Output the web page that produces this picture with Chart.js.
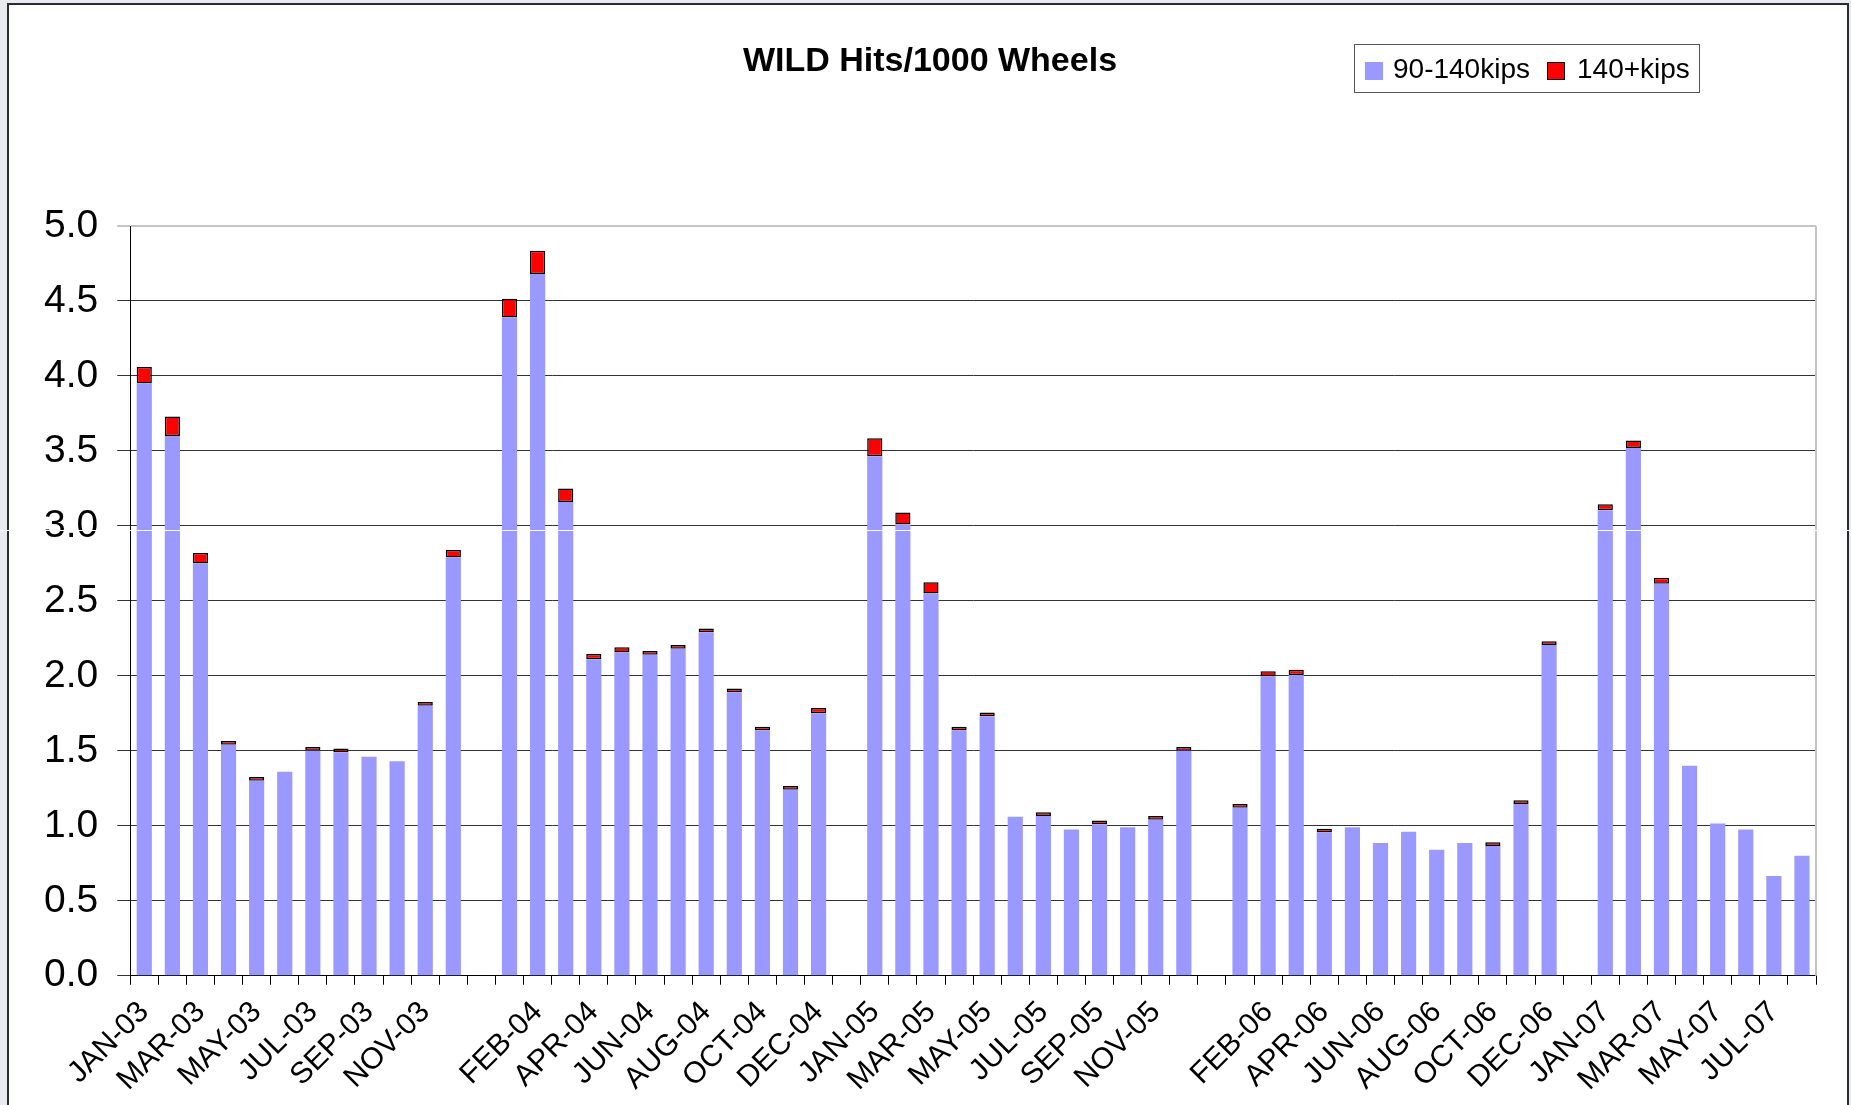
<!DOCTYPE html>
<html>
<head>
<meta charset="utf-8">
<script src="https://cdn.jsdelivr.net/npm/chart.js@4.4.1/dist/chart.umd.min.js"></script>
<style>
  html, body { margin: 0; padding: 0; }
  body {
    width: 1851px; height: 1105px; overflow: hidden; position: relative;
    background: #e7ebf0;
    font-family: "Liberation Sans", Arial, sans-serif;
  }
  #frame {
    position: absolute; left: 7px; top: 3px; width: 1838px; height: 1120px;
    border: 2px solid #2b2b2b; background: #fff;
  }
  #title {
    position: absolute; left: 0; top: 39px; width: 1860px; text-align: center;
    font-size: 34px; font-weight: bold; line-height: 40px; color: #000;
  }
  #legend {
    position: absolute; left: 1354px; top: 44px; width: 344px; height: 47px;
    border: 1px solid #555; background: #fff; font-size: 28px; color: #000;
  }
  #legend span { position: absolute; white-space: nowrap; }
  #legend .sw { width: 18px; height: 18px; box-sizing: border-box; top: 17px; }
  #legend .txt { top: 8px; line-height: 32px; }
  #glitch { position: absolute; left: 0; top: 530px; width: 1851px; height: 1px; background: #fff; }
</style>
</head>
<body>
<div id="frame"><canvas id="wildChart" width="1838" height="1108"></canvas></div>
<div id="title">WILD Hits/1000 Wheels</div>
<div id="legend"></div>
<div id="glitch"></div>
<script>
// one slot per month, '' marks the empty spacer slot between years
const months = [
  "JAN-03", "FEB-03", "MAR-03", "APR-03", "MAY-03", "JUN-03", "JUL-03", "AUG-03", "SEP-03", "OCT-03", "NOV-03", "DEC-03", "",
  "JAN-04", "FEB-04", "MAR-04", "APR-04", "MAY-04", "JUN-04", "JUL-04", "AUG-04", "SEP-04", "OCT-04", "NOV-04", "DEC-04", "",
  "JAN-05", "FEB-05", "MAR-05", "APR-05", "MAY-05", "JUN-05", "JUL-05", "AUG-05", "SEP-05", "OCT-05", "NOV-05", "DEC-05", "",
  "JAN-06", "FEB-06", "MAR-06", "APR-06", "MAY-06", "JUN-06", "JUL-06", "AUG-06", "SEP-06", "OCT-06", "NOV-06", "DEC-06", "",
  "JAN-07", "FEB-07", "MAR-07", "APR-07", "MAY-07", "JUN-07", "JUL-07", "AUG-07",
];

// 90-140 kips hits per 1000 wheels
const hitsMid = [
  3.95, 3.60, 2.75, 1.54, 1.30, 1.36, 1.50, 1.49, 1.46, 1.43, 1.80, 2.79, null,
  4.39, 4.68, 3.16, 2.11, 2.155, 2.14, 2.18, 2.29, 1.89, 1.635, 1.24, 1.75, null,
  3.465, 3.01, 2.55, 1.635, 1.73, 1.06, 1.065, 0.975, 1.01, 0.99, 1.04, 1.50, null,
  1.12, 1.995, 2.005, 0.955, 0.99, 0.885, 0.96, 0.84, 0.885, 0.865, 1.145, 2.205, null,
  3.105, 3.52, 2.615, 1.40, 1.015, 0.975, 0.665, 0.80,
];

// 140+ kips hits per 1000 wheels
const hitsHeavy = [
  0.11, 0.13, 0.07, 0.025, 0.025, null, 0.025, 0.025, null, null, 0.025, 0.05, null,
  0.125, 0.155, 0.09, 0.035, 0.035, 0.025, 0.025, 0.025, 0.025, 0.025, 0.025, 0.035, null,
  0.12, 0.08, 0.075, 0.025, 0.025, null, 0.025, null, 0.025, null, 0.025, 0.025, null,
  0.025, 0.035, 0.035, 0.025, null, null, null, null, null, 0.025, 0.025, 0.025, null,
  0.04, 0.05, 0.04, null, null, null, null, null,
];

const yTicks = { min: 0, max: 5, step: 0.5 };

const font = '"Liberation Sans", Arial, sans-serif';

// right edge of the plot area is a light grey line
const plotFrame = {
  id: "plotFrame",
  afterDraw(chart) {
    const { ctx, chartArea } = chart;
    ctx.save();
    ctx.strokeStyle = "#c4c4c4";
    ctx.lineWidth = 2;
    ctx.beginPath();
    ctx.moveTo(chartArea.right, chartArea.top);
    ctx.lineTo(chartArea.right, chartArea.bottom);
    ctx.stroke();
    ctx.restore();
  },
};

const ctx = document.getElementById("wildChart").getContext("2d");
const chart = new Chart(ctx, {
  type: "bar",
  data: {
    labels: months,
    datasets: [
      {
        label: "90-140kips",
        data: hitsMid,
        backgroundColor: "#9999ff",
        borderWidth: 0,
        barPercentage: 0.54,
        categoryPercentage: 1.0,
      },
      {
        label: "140+kips",
        data: hitsHeavy,
        backgroundColor: "#ff0000",
        borderColor: "#000000",
        borderWidth: 1.5,
        borderSkipped: false,
        barPercentage: 0.54,
        categoryPercentage: 1.0,
      },
    ],
  },
  options: {
    responsive: false,
    animation: false,
    layout: { padding: { left: 16, right: 31, top: 221, bottom: 5 } },
    plugins: {
      legend: { display: false },
      tooltip: { enabled: false },
      title: { display: false },
    },
    scales: {
      x: {
        stacked: true,
        grid: {
          offset: true,
          drawOnChartArea: false,
          drawTicks: true,
          tickLength: 9,
          color: "#000",
        },
        border: { display: true, color: "#000", width: 1 },
        ticks: {
          autoSkip: false,
          maxRotation: 45,
          minRotation: 45,
          padding: 10,
          color: "#000",
          font: { family: font, size: 30 },
          callback: (value, i) => (i % 2 === 0 ? months[i] : ""),
        },
      },
      y: {
        stacked: true,
        min: yTicks.min,
        max: yTicks.max,
        grid: {
          color: (c) => (c.tick && c.tick.value === yTicks.max ? "#c4c4c4" : "#333"),
          lineWidth: (c) => (c.tick && c.tick.value === yTicks.max ? 2 : 1),
          tickLength: 13,
        },
        border: { display: true, color: "#000", width: 1 },
        ticks: {
          stepSize: yTicks.step,
          padding: 19,
          color: "#000",
          font: { family: font, size: 39 },
          callback: (v) => v.toFixed(1),
        },
      },
    },
  },
  plugins: [plotFrame],
});

// legend box built from the datasets
const legend = document.getElementById("legend");
const legendPos = [
  { sw: 10, txt: 38 },
  { sw: 192, txt: 222 },
];
chart.data.datasets.forEach((ds, i) => {
  const sw = document.createElement("span");
  sw.className = "sw";
  sw.style.left = legendPos[i].sw + "px";
  sw.style.background = ds.backgroundColor;
  if (ds.borderWidth) sw.style.border = "1.5px solid " + ds.borderColor;
  legend.appendChild(sw);
  const txt = document.createElement("span");
  txt.className = "txt";
  txt.style.left = legendPos[i].txt + "px";
  txt.textContent = ds.label;
  legend.appendChild(txt);
});
</script>
</body>
</html>
